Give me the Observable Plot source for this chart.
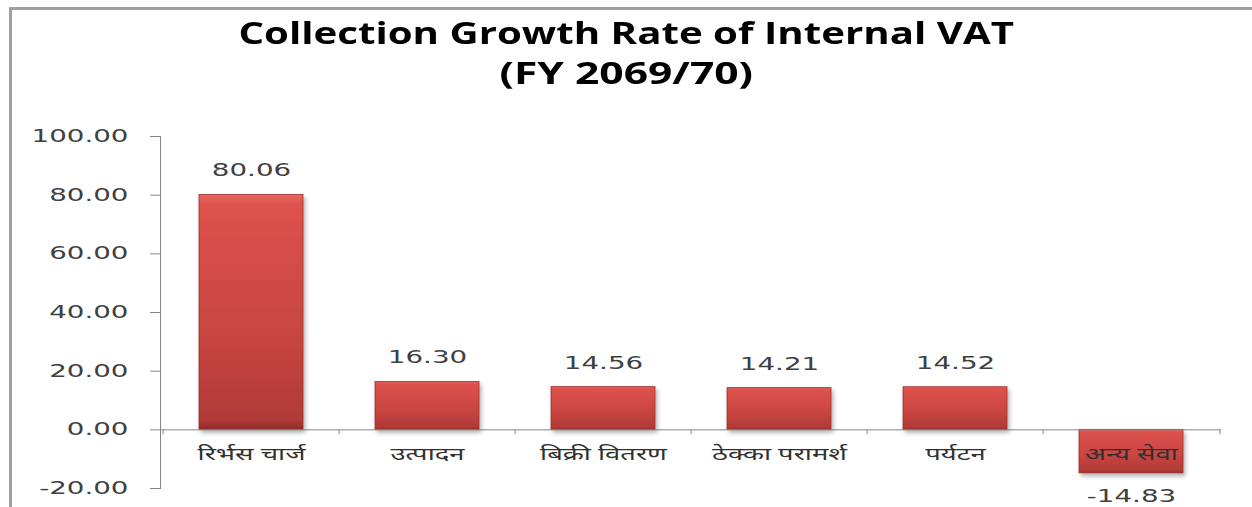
<!DOCTYPE html>
<html><head><meta charset="utf-8">
<script src="https://cdn.jsdelivr.net/npm/d3@7"></script>
<script src="https://cdn.jsdelivr.net/npm/@observablehq/plot@0.6"></script>
<style>
html,body{margin:0;padding:0;background:#fff;width:1252px;height:507px;overflow:hidden;}
#wrap{position:relative;width:1252px;height:507px;}
#border{position:absolute;left:9px;top:7px;width:1300px;height:600px;border-left:3px solid #a0a0a0;border-top:3px solid #a0a0a0;}
#title{position:relative;height:110px;font-family:"Open Sans",sans-serif;font-weight:700;color:#000;font-size:30px;}
.tl{position:absolute;left:0;width:1252px;text-align:center;white-space:nowrap;line-height:40px;}
.tl span{display:inline-block;transform-origin:center;}
#chart{position:relative;}
</style>
</head><body>
<div id="wrap">
  <div id="border"></div>
  <div id="title"><div class="tl" style="top:13px"><span id="t1"></span></div><div class="tl" style="top:53px"><span id="t2"></span></div></div>
  <div id="chart"></div>
</div>
<script>
const titleText = "Collection Growth Rate of Internal VAT";
const subtitleText = "(FY 2069/70)";
const categories = ["रिर्भस चार्ज", "उत्पादन", "बिक्री वितरण", "ठेक्का परामर्श", "पर्यटन", "अन्य सेवा"];
const values = [80.06, 16.30, 14.56, 14.21, 14.52, -14.83];
const yTicks = [-20, 0, 20, 40, 60, 80, 100];

const data = categories.map((c, i) => ({category: c, value: values[i]}));
const fmt = d3.formatLocale({decimal: ".", thousands: ",", grouping: [3], currency: ["", ""], minus: "-"}).format(".2f");

// title
const t1 = document.getElementById("t1"), t2 = document.getElementById("t2");
t1.textContent = titleText; t2.textContent = subtitleText;
t1.style.transform = `scaleX(${775 / t1.offsetWidth})`;
t2.style.transform = `scaleX(${254 / t2.offsetWidth})`;

const W = 1252, H = 397, mL = 160, mR = 31, mT = 26, mB = 19;
const step = (W - mL - mR) / categories.length;

const chart = Plot.plot({
  width: W, height: H,
  marginLeft: mL, marginRight: mR, marginTop: mT, marginBottom: mB,
  style: {fontFamily: "DejaVu Sans, sans-serif", fontSize: "17px", color: "#404040", background: "transparent", overflow: "visible"},
  x: {domain: categories, paddingInner: 0.41, paddingOuter: 0.205, axis: null},
  y: {domain: [-20, 100], axis: null},
  marks: [
    Plot.barY(data, {x: "category", y: "value", fill: "url(#barGrad)", stroke: "#9a2d2a", strokeWidth: 0.8}),
    Plot.axisY({ticks: yTicks, tickFormat: fmt, tickSize: 10, tickPadding: 22, stroke: "#868686", fill: "#404040", fontSize: 17, label: null}),
    Plot.frame({anchor: "left", stroke: "#868686"}),
    Plot.ruleY([0], {stroke: "#868686"}),
    Plot.ruleX(categories, {x: d => d, y1: 0, y2: 0, dx: -step / 2, insetBottom: -5, stroke: "#868686"}),
    Plot.ruleX(categories.slice(-1), {x: d => d, y1: 0, y2: 0, dx: step / 2, insetBottom: -5, stroke: "#868686"}),
    Plot.text(data, {x: "category", y: 0, text: "category", dy: 24, fontSize: 18, fill: "#303030", fontFamily: "Noto Sans, Noto Sans Devanagari, Lohit Devanagari, FreeSans, sans-serif"}),
    Plot.text(data, {filter: d => d.value >= 0, x: "category", y: "value", text: d => fmt(d.value), dy: -24, fontSize: 17, fill: "#404040"}),
    Plot.text(data, {filter: d => d.value < 0, x: "category", y: "value", text: d => fmt(d.value), dy: 23, fontSize: 17, fill: "#404040"})
  ]
});
document.getElementById("chart").appendChild(chart);

// defs for bar gradient and shadow
const svg = d3.select(chart.tagName.toLowerCase() === "svg" ? chart : chart.querySelector("svg"));
const defs = svg.insert("defs", ":first-child");
const g = defs.append("linearGradient").attr("id", "barGrad").attr("x1", 0).attr("y1", 0).attr("x2", 0).attr("y2", 1);
g.append("stop").attr("offset", "0%").attr("stop-color", "#ea6863");
g.append("stop").attr("offset", "4%").attr("stop-color", "#de524d");
g.append("stop").attr("offset", "60%").attr("stop-color", "#c84541");
g.append("stop").attr("offset", "96%").attr("stop-color", "#b03a37");
g.append("stop").attr("offset", "100%").attr("stop-color", "#8e2b29");
const f = defs.append("filter").attr("id", "sh").attr("x", "-20%").attr("y", "-20%").attr("width", "140%").attr("height", "140%");
f.append("feDropShadow").attr("dx", 2).attr("dy", 3).attr("stdDeviation", 2).attr("flood-color", "#000").attr("flood-opacity", 0.3);
svg.selectAll("rect").filter(function() { return this.getAttribute("fill") === "url(#barGrad)" || (this.parentNode && this.parentNode.getAttribute("fill") === "url(#barGrad)"); }).attr("filter", "url(#sh)");

// horizontal stretch of text (reference is rendered wide)
const texts = svg.selectAll("text").nodes();
const isDev = t => /[\u0900-\u097F]/.test(t.textContent);
function measure(pred, sample) {
  const n = texts.find(t => pred(t) && t.textContent === sample);
  return n ? n.getComputedTextLength() : null;
}
const wNum = measure(t => !isDev(t), "100.00");
const wDev = measure(isDev, categories[0]);
const fNum = wNum ? 97 / wNum : 1.5;
const fDev = wDev ? 108 / wDev : 1.3;
texts.forEach(t => {
  const f = isDev(t) ? fDev : fNum;
  const x = +(t.getAttribute("x") || 0);
  const tr = t.getAttribute("transform") || "";
  t.setAttribute("transform", `${tr} translate(${x},0) scale(${f},1) translate(${-x},0)`);
});
</script>
</body></html>
